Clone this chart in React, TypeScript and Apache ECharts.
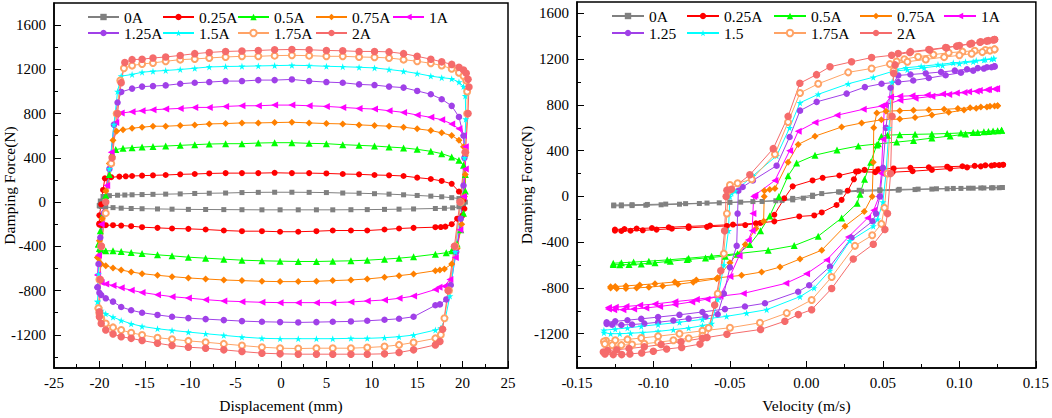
import React, { useEffect, useRef } from 'react';
import * as echarts from 'echarts';

const FONT = 'Liberation Serif';

// ---------- series identity ----------
const NAMES_L = ['0A', '0.25A', '0.5A', '0.75A', '1A', '1.25A', '1.5A', '1.75A', '2A'];
const NAMES_R = ['0A', '0.25A', '0.5A', '0.75A', '1A', '1.25', '1.5', '1.75A', '2A'];
const COLORS = ['#808080', '#FF0000', '#00FF00', '#FF8000', '#FF00FF', '#A040E8', '#00FFFF', '#FFA366', '#F56B6B'];
const STAR = 'path://M50,0L61,35L98,35L68,57L79,91L50,70L21,91L32,57L2,35L39,35Z';
const SYMBOLS = ['rect', 'circle', 'triangle', 'diamond', 'triangle', 'circle', STAR, 'emptyCircle', 'circle'];
const SYMBOL_ROTATE = [0, 0, 0, 0, 90, 0, 0, 0, 0];
const SYMBOL_SIZE = [5, 6, 7, 7, 7, 6.5, 7, 6, 7.5];

// ---------- axis ticks ----------
const Y_TICKS = [-1200, -800, -400, 0, 400, 800, 1200, 1600];
const Y_MINOR = [-1400, -1000, -600, -200, 200, 600, 1000, 1400];

// ---------- left panel: displacement positions of markers ----------
const DISP_UP = [-16.4, -15.3, -14.1, -12.7, -11.1, -9.5, -7.9, -6.1, -4.3, -2.5, -0.7, 1.2, 3.1, 5.0, 6.8, 8.6, 10.3, 11.9, 13.5, 15.0, 16.5, 17.7, 18.8, 19.6, 20.1];
const DISP_LO = [17.0, 14.6, 13.0, 11.4, 9.5, 7.7, 5.7, 3.9, 1.9, -0.1, -2.1, -4.3, -6.3, -8.3, -10.2, -12.0, -13.6, -15.3, -16.5, -17.6, -18.5, -19.3, -19.8, -20.0];

// 0A
const EL_0 = [[-20.0, -30], [-19.9, 10], [-19.6, 51], [-18.9, 58], [-18.0, 62], [-17.2, 64]];
const FU_0 = [66, 68, 70, 72, 74, 78, 80, 82, 86, 88, 89, 89, 88, 86, 82, 80, 76, 72, 66, 60, 54, 48, 40, 32, 22];
const ER_0 = [[20.3, 0], [20.1, -25], [19.6, -42], [18.9, -52], [18.0, -56]];
const FL_0 = [-58, -62, -64, -66, -68, -69, -70, -70, -70, -70, -70, -69, -68, -67, -66, -64, -62, -60, -58, -55, -50, -45, -40, -35];
// 0.25A
const EL_025 = [[-20.0, -195], [-20.0, -120], [-19.8, -20], [-19.6, 110], [-19.4, 215], [-18.7, 225], [-17.8, 230], [-17.1, 233]];
const FU_025 = [236, 239, 242, 245, 251, 254, 259, 262, 262, 262, 265, 262, 262, 259, 254, 251, 245, 242, 236, 221, 209, 191, 165, 95, 20];
const ER_025 = [[20.2, -60], [20.0, -120], [19.4, -150], [18.8, -200], [18.1, -222], [17.6, -226]];
const FL_025 = [-227, -233, -239, -248, -257, -257, -257, -263, -268, -268, -263, -263, -257, -248, -242, -239, -233, -227, -218, -212, -209, -209, -209, -205];
// 0.5A
const EL_05 = [[-20.1, -380], [-19.9, -260], [-19.6, -100], [-19.3, 60], [-18.9, 250], [-18.6, 440], [-18.2, 475], [-17.4, 486]];
const FU_05 = [492, 498, 503, 507, 513, 519, 525, 528, 528, 534, 537, 537, 531, 528, 519, 513, 507, 498, 490, 477, 459, 438, 408, 378, 334];
const ER_05 = [[20.3, 250], [20.3, 100], [20.1, -100], [19.8, -250], [19.4, -380], [18.8, -440], [18.2, -458]];
const FL_05 = [-471, -495, -507, -516, -525, -531, -534, -537, -537, -534, -531, -525, -516, -507, -498, -486, -477, -465, -456, -447, -441, -441, -430, -420];
// 0.75A
const EL_075 = [[-20.2, -500], [-20.0, -350], [-19.7, -150], [-19.3, 100], [-18.9, 350], [-18.5, 560], [-18.1, 640], [-17.4, 655]];
const FU_075 = [668, 677, 686, 686, 692, 698, 707, 710, 716, 716, 719, 722, 716, 710, 707, 698, 692, 686, 677, 662, 647, 626, 602, 560, 500];
const ER_075 = [[20.3, 420], [20.3, 250], [20.2, 50], [19.9, -200], [19.4, -420], [18.8, -560], [18.0, -605], [17.5, -615]];
const FL_075 = [-620, -650, -665, -680, -695, -704, -710, -716, -719, -719, -716, -710, -704, -695, -686, -674, -662, -647, -632, -614, -596, -575, -560, -546];
// 1A
const EL_1 = [[-20.2, -660], [-20.1, -480], [-19.8, -200], [-19.2, 150], [-18.7, 450], [-18.2, 720], [-17.6, 805]];
const FU_1 = [817, 826, 835, 841, 847, 856, 856, 865, 871, 871, 877, 877, 871, 865, 856, 847, 841, 826, 811, 787, 766, 745, 707, 662, 602];
const ER_1 = [[20.3, 500], [20.3, 300], [20.1, 50], [19.7, -250], [19.2, -500], [18.6, -700], [18.0, -760], [17.4, -769]];
const FL_1 = [-790, -850, -870, -885, -894, -903, -909, -909, -909, -909, -906, -900, -894, -882, -868, -855, -838, -817, -796, -775, -754, -740, -728, -715];
// 1.25A
const EL_125 = [[-20.2, -770], [-20.1, -560], [-19.9, -320], [-19.5, -100], [-18.9, 300], [-18.4, 700], [-18.0, 900], [-17.6, 996]];
const FU_125 = [1026, 1044, 1049, 1055, 1070, 1079, 1085, 1094, 1094, 1103, 1103, 1109, 1094, 1085, 1079, 1064, 1058, 1044, 1035, 1005, 975, 930, 870, 770, 600];
const ER_125 = [[20.2, 400], [20.1, 150], [19.8, -150], [19.3, -450], [18.7, -750], [18.2, -880], [17.5, -925]];
const FL_125 = [-933, -1037, -1055, -1064, -1073, -1079, -1082, -1085, -1088, -1085, -1082, -1076, -1067, -1058, -1049, -1037, -1020, -1000, -978, -948, -900, -870, -840, -820];
// 1.5A
const EL_15 = [[-20.2, -900], [-20.1, -650], [-19.9, -400], [-19.4, -100], [-18.9, 300], [-18.4, 700], [-18.0, 1000], [-17.6, 1139]];
const FU_15 = [1154, 1174, 1183, 1190, 1199, 1210, 1222, 1226, 1228, 1231, 1234, 1237, 1234, 1228, 1224, 1219, 1213, 1199, 1183, 1163, 1139, 1125, 1115, 1085, 1045];
const ER_15 = [[20.3, 960], [20.35, 750], [20.2, 400], [19.8, 0], [19.2, -450], [18.6, -850], [18.1, -1050], [17.6, -1140]];
const FL_15 = [-1157, -1202, -1217, -1226, -1232, -1232, -1235, -1235, -1235, -1235, -1232, -1220, -1205, -1190, -1175, -1160, -1145, -1124, -1100, -1070, -1040, -1010, -980, -960];
// 1.75A
const EL_175 = [[-20.1, -960], [-20.0, -700], [-19.8, -400], [-19.3, -100], [-18.7, 350], [-18.1, 800], [-17.7, 1100], [-17.3, 1210]];
const FU_175 = [1234, 1249, 1258, 1273, 1288, 1294, 1303, 1312, 1318, 1318, 1324, 1327, 1324, 1318, 1318, 1312, 1309, 1303, 1288, 1273, 1255, 1235, 1205, 1170, 1140];
const ER_175 = [[20.4, 1100], [20.5, 1000], [20.5, 800], [20.3, 450], [19.8, 0], [19.2, -400], [18.5, -800], [18.0, -1050], [17.6, -1200]];
const FL_175 = [-1232, -1270, -1291, -1306, -1315, -1321, -1321, -1321, -1324, -1321, -1312, -1297, -1282, -1267, -1255, -1240, -1226, -1202, -1181, -1157, -1133, -1097, -1052, -1008];
// 2A
const EL_2 = [[-20.0, -993], [-19.9, -700], [-19.8, -400], [-19.3, 0], [-18.6, 400], [-18.0, 800], [-17.6, 1080], [-17.2, 1262]];
const FU_2 = [1288, 1292, 1303, 1312, 1326, 1342, 1353, 1362, 1366, 1371, 1377, 1380, 1377, 1371, 1368, 1362, 1362, 1358, 1342, 1318, 1292, 1268, 1245, 1218, 1195];
const ER_2 = [[20.4, 1165], [20.6, 1110], [20.7, 1040], [20.6, 800], [20.3, 450], [19.7, 0], [19.1, -400], [18.4, -800], [17.8, -1150], [17.5, -1260]];
const FL_2 = [-1291, -1336, -1360, -1372, -1375, -1375, -1375, -1375, -1375, -1372, -1366, -1351, -1336, -1321, -1312, -1297, -1276, -1252, -1232, -1217, -1193, -1157, -1097, -1037];

// ---------- right panel: velocity / force loops ----------
const VEL_0 = [
  [0.128, 78], [0.122, 76], [0.116, 74], [0.109, 72], [0.101, 70], [0.092, 67], [0.082, 64], [0.071, 60], [0.060, 55], [0.048, 50], [0.036, 45], [0.022, 38], [0.010, 25], [0.004, 0], [-0.002, -15],
  [-0.009, -30], [-0.020, -38], [-0.035, -45], [-0.050, -52], [-0.065, -58], [-0.079, -63], [-0.092, -67], [-0.104, -70], [-0.114, -72], [-0.121, -74], [-0.126, -75],
  [-0.126, -82], [-0.121, -82], [-0.114, -80], [-0.105, -77], [-0.095, -73], [-0.083, -68], [-0.070, -62], [-0.057, -56], [-0.043, -50], [-0.029, -44], [-0.016, -35],
  [-0.009, -17], [0.004, 11], [0.021, 40],
  [0.0345, 54], [0.048, 58], [0.0607, 62], [0.073, 64], [0.085, 67], [0.096, 70], [0.106, 72], [0.114, 74], [0.121, 75], [0.126, 76],
];
const VEL_025 = [
  [0.1286, 277], [0.123, 275], [0.117, 272], [0.110, 268], [0.102, 264], [0.092, 260], [0.080, 255], [0.068, 250], [0.057, 245], [0.047, 238], [0.038, 232],
  [0.034, 220], [0.031, 150], [0.027, 50], [0.023, -30], [0.0197, -75],
  [0.010, -140], [0.0051, -166], [-0.0047, -175], [-0.021, -218], [-0.033, -235], [-0.048, -246], [-0.063, -255], [-0.077, -262], [-0.090, -270], [-0.101, -276], [-0.111, -281], [-0.119, -285], [-0.1252, -289],
  [-0.1252, -300], [-0.121, -302], [-0.115, -300], [-0.107, -296], [-0.098, -290], [-0.088, -282], [-0.077, -275], [-0.065, -266], [-0.052, -258], [-0.040, -250],
  [-0.030, -232], [-0.021, -160], [-0.0145, -17], [-0.009, 88],
  [0.004, 140], [0.0106, 163], [0.0215, 183], [0.0324, 217], [0.045, 212], [0.0563, 212], [0.0694, 221], [0.082, 232], [0.094, 244], [0.105, 254], [0.114, 263], [0.121, 270], [0.126, 274],
];
const VEL_05 = [
  [0.1276, 578], [0.122, 572], [0.116, 566], [0.109, 560], [0.101, 555], [0.092, 550], [0.082, 546], [0.071, 543], [0.061, 540], [0.053, 536], [0.049, 525],
  [0.046, 450], [0.042, 300], [0.038, 150], [0.035, 20], [0.0332, -60],
  [0.023, -189], [0.0077, -347], [-0.008, -430], [-0.025, -470], [-0.045, -500], [-0.062, -522], [-0.077, -540], [-0.091, -555], [-0.103, -566], [-0.113, -574], [-0.121, -580], [-0.1263, -584],
  [-0.1263, -595], [-0.122, -598], [-0.116, -596], [-0.108, -590], [-0.099, -580], [-0.089, -566], [-0.078, -552], [-0.066, -538], [-0.053, -522], [-0.045, -505],
  [-0.037, -420], [-0.030, -300], [-0.024, -170], [-0.018, 0], [-0.012, 180], [-0.0064, 292],
  [0.0056, 361], [0.020, 405], [0.0339, 441], [0.047, 460], [0.059, 475], [0.070, 490], [0.082, 510], [0.094, 528], [0.104, 545], [0.112, 558], [0.119, 568], [0.125, 575],
];
const VEL_075 = [
  [0.125, 793], [0.120, 788], [0.114, 782], [0.107, 775], [0.099, 768], [0.090, 762], [0.080, 757], [0.070, 753], [0.061, 750], [0.052, 745],
  [0.046, 730], [0.044, 600], [0.0437, 300], [0.043, 0], [0.0378, -131],
  [0.0252, -260], [0.010, -470], [-0.0042, -547], [-0.0173, -618], [-0.0293, -661], [-0.0424, -690], [-0.058, -712], [-0.072, -730], [-0.086, -748], [-0.099, -763], [-0.109, -774], [-0.118, -782], [-0.125, -788], [-0.128, -790],
  [-0.128, -800], [-0.124, -805], [-0.118, -805], [-0.111, -800], [-0.103, -793], [-0.094, -782], [-0.084, -768], [-0.074, -750], [-0.0587, -720],
  [-0.050, -580], [-0.040, -420], [-0.033, -280], [-0.028, -218], [-0.0276, 0], [-0.0275, 50],
  [-0.024, 60], [-0.0206, 70], [-0.012, 300], [-0.0054, 455], [0.0056, 527], [0.023, 607], [0.0361, 642], [0.049, 670], [0.061, 676], [0.071, 690], [0.082, 712], [0.093, 735], [0.103, 755], [0.111, 770], [0.118, 782], [0.123, 790],
];
const VEL_1 = [
  [0.1243, 942], [0.119, 935], [0.113, 926], [0.106, 916], [0.098, 905], [0.089, 895], [0.079, 886], [0.069, 880], [0.061, 876], [0.055, 870],
  [0.051, 800], [0.050, 500], [0.049, 200], [0.0475, 0], [0.044, -120], [0.040, -189],
  [0.0274, -355], [0.0132, -556], [0.0001, -676], [-0.0135, -760], [-0.0413, -848], [-0.058, -875], [-0.072, -900], [-0.086, -920], [-0.099, -940], [-0.109, -952], [-0.118, -962], [-0.125, -968], [-0.1295, -972],
  [-0.1295, -985], [-0.126, -990], [-0.120, -990], [-0.113, -985], [-0.105, -975], [-0.096, -962], [-0.086, -945], [-0.075, -922], [-0.065, -898], [-0.0565, -870],
  [-0.050, -700], [-0.044, -520], [-0.038, -380], [-0.0355, -300], [-0.035, -150], [-0.0345, 0],
  [-0.0337, 11], [-0.0206, 140], [-0.011, 400], [-0.0054, 570], [0.0056, 647], [0.020, 710], [0.0371, 762], [0.0491, 790], [0.0611, 842], [0.071, 858], [0.082, 875], [0.093, 892], [0.103, 908], [0.111, 920], [0.118, 932], [0.123, 940],
];
const VEL_125 = [
  [0.123, 1137], [0.118, 1130], [0.112, 1122], [0.105, 1112], [0.097, 1100], [0.088, 1088], [0.078, 1076], [0.068, 1066], [0.060, 1058],
  [0.055, 950], [0.052, 600], [0.050, 250], [0.048, 0], [0.0455, -150], [0.0432, -217],
  [0.0295, -361], [0.0154, -613], [0.0018, -776], [-0.0054, -833], [-0.0271, -934], [-0.0402, -962], [-0.0533, -985], [-0.068, -1010], [-0.083, -1035], [-0.097, -1055], [-0.108, -1070], [-0.117, -1082], [-0.125, -1092], [-0.1306, -1100],
  [-0.1306, -1114], [-0.127, -1122], [-0.121, -1124], [-0.114, -1120], [-0.106, -1112], [-0.097, -1100], [-0.087, -1085], [-0.077, -1068], [-0.066, -1050], [-0.058, -1030],
  [-0.054, -850], [-0.050, -620], [-0.0456, -432], [-0.045, -150], [-0.0445, 50], [-0.0417, 83],
  [-0.035, 140], [-0.0195, 269], [-0.011, 520], [-0.0042, 750], [0.0067, 827], [0.0263, 899], [0.0382, 956], [0.0491, 985], [0.060, 1000], [0.0698, 1014], [0.080, 1035], [0.091, 1060], [0.101, 1082], [0.109, 1100], [0.116, 1118], [0.121, 1130],
];
const VEL_15 = [
  [0.1225, 1205], [0.117, 1197], [0.111, 1188], [0.104, 1178], [0.096, 1168], [0.086, 1153], [0.075, 1138], [0.065, 1125], [0.059, 1110],
  [0.056, 1000], [0.054, 600], [0.052, 200], [0.050, -50], [0.0465, -200], [0.0437, -260],
  [0.0284, -389], [0.0154, -647], [0.005, -800], [-0.0042, -876], [-0.026, -990], [-0.0391, -1020], [-0.0522, -1048], [-0.068, -1075], [-0.083, -1100], [-0.097, -1120], [-0.108, -1135], [-0.117, -1150], [-0.125, -1160], [-0.1324, -1170],
  [-0.1324, -1191], [-0.128, -1200], [-0.122, -1200], [-0.115, -1196], [-0.107, -1190], [-0.097, -1180], [-0.087, -1165], [-0.077, -1150], [-0.068, -1130], [-0.062, -1112],
  [-0.058, -900], [-0.054, -600], [-0.051, -300], [-0.050, 0], [-0.049, 30],
  [-0.0467, 46], [-0.035, 180], [-0.0195, 355], [-0.011, 600], [-0.0042, 819], [0.0077, 893], [0.0273, 985], [0.0437, 1042], [0.0567, 1095], [0.066, 1108], [0.077, 1125], [0.089, 1145], [0.100, 1162], [0.109, 1178], [0.116, 1192], [0.121, 1200],
];
const VEL_175 = [
  [0.123, 1286], [0.117, 1280], [0.110, 1274], [0.102, 1266], [0.093, 1256], [0.083, 1240], [0.073, 1222], [0.064, 1200], [0.059, 1180],
  [0.057, 1100], [0.055, 700], [0.053, 200], [0.051, -100], [0.049, -240],
  [0.0430, -340], [0.0317, -432], [0.0165, -704], [0.0034, -905], [-0.0129, -1020], [-0.0304, -1105], [-0.050, -1148], [-0.068, -1175], [-0.083, -1200], [-0.097, -1222], [-0.108, -1238], [-0.117, -1250], [-0.125, -1258], [-0.131, -1262], [-0.1324, -1268],
  [-0.1318, -1290], [-0.127, -1300], [-0.121, -1300], [-0.114, -1295], [-0.106, -1288], [-0.097, -1275], [-0.087, -1258], [-0.077, -1240], [-0.068, -1218],
  [-0.064, -1150], [-0.058, -850], [-0.054, -500], [-0.052, -150], [-0.051, 50], [-0.050, 100],
  [-0.045, 115], [-0.0358, 150], [-0.0206, 369], [-0.012, 650], [-0.0042, 905], [0.0077, 985], [0.0273, 1085], [0.0426, 1119], [0.0546, 1157], [0.066, 1178], [0.078, 1198], [0.090, 1218], [0.100, 1234], [0.108, 1248], [0.115, 1262], [0.120, 1275],
];
const VEL_2 = [
  [0.123, 1372], [0.119, 1362], [0.114, 1352], [0.108, 1338], [0.100, 1320], [0.091, 1302], [0.080, 1284], [0.068, 1266], [0.060, 1250],
  [0.058, 1150], [0.057, 1077], [0.056, 700], [0.055, 200], [0.053, -150], [0.0513, -289],
  [0.0437, -418], [0.0306, -547], [0.0165, -805], [0.0034, -990], [-0.0053, -1033], [-0.0141, -1091], [-0.030, -1163], [-0.052, -1205], [-0.068, -1240], [-0.082, -1270], [-0.095, -1295], [-0.106, -1315], [-0.116, -1330], [-0.124, -1340], [-0.130, -1348], [-0.1328, -1360],
  [-0.1317, -1377], [-0.1263, -1383], [-0.1208, -1383], [-0.1154, -1377], [-0.1077, -1368], [-0.1001, -1354], [-0.0914, -1334], [-0.0816, -1320], [-0.0696, -1291],
  [-0.065, -1234], [-0.060, -950], [-0.056, -650], [-0.0535, -300], [-0.0525, 0], [-0.052, 55],
  [-0.049, 63], [-0.037, 189], [-0.0217, 418], [-0.012, 700], [-0.0043, 990], [0.0066, 1065], [0.0154, 1134], [0.0295, 1177], [0.0426, 1214], [0.0557, 1234], [0.0676, 1258], [0.0807, 1280], [0.0916, 1300], [0.0982, 1314], [0.1069, 1332], [0.1134, 1348], [0.1178, 1358], [0.1221, 1368],
];

function loopLeft(el: number[][], fu: number[], er: number[][], fl: number[]) {
  const pts: number[][] = [...el];
  DISP_UP.forEach((x, i) => pts.push([x, fu[i]]));
  er.forEach((p) => pts.push(p));
  DISP_LO.forEach((x, i) => pts.push([x, fl[i]]));
  pts.push(el[0]);
  return pts;
}
const closeLoop = (a: number[][]) => [...a, a[0]];

const LEFT_LOOPS = [
  loopLeft(EL_0, FU_0, ER_0, FL_0),
  loopLeft(EL_025, FU_025, ER_025, FL_025),
  loopLeft(EL_05, FU_05, ER_05, FL_05),
  loopLeft(EL_075, FU_075, ER_075, FL_075),
  loopLeft(EL_1, FU_1, ER_1, FL_1),
  loopLeft(EL_125, FU_125, ER_125, FL_125),
  loopLeft(EL_15, FU_15, ER_15, FL_15),
  loopLeft(EL_175, FU_175, ER_175, FL_175),
  loopLeft(EL_2, FU_2, ER_2, FL_2),
];
const RIGHT_LOOPS = [VEL_0, VEL_025, VEL_05, VEL_075, VEL_1, VEL_125, VEL_15, VEL_175, VEL_2].map(closeLoop);

// legend placement (layout)
const LEG_L = [[87, 9], [162, 9], [237, 9], [315, 9], [392, 9], [87, 25], [162, 25], [237, 25], [315, 25]];
const LEG_R = [[611, 8], [686, 8], [773, 8], [859, 8], [943, 8], [611, 25], [686, 25], [773, 25], [859, 25]];

function txt(size: number = 15.5) {
  return { fontFamily: FONT, fontSize: size, color: '#000' };
}

function makeSeries(i: number, name: string, data: number[][], axis: number) {
  return {
    type: 'line',
    name,
    xAxisIndex: axis,
    yAxisIndex: axis === 0 ? 0 : 2,
    data,
    symbol: SYMBOLS[i],
    symbolSize: SYMBOL_SIZE[i],
    symbolRotate: SYMBOL_ROTATE[i],
    showSymbol: true,
    lineStyle: { color: COLORS[i], width: 1 },
    itemStyle: { color: COLORS[i], borderColor: COLORS[i], borderWidth: SYMBOLS[i] === 'emptyCircle' ? 1.2 : 0 },
    emphasis: { disabled: true },
    animation: false,
  };
}

function yAxes(grid: number, max: number, nameGap: number) {
  return [
    {
      type: 'value', gridIndex: grid, min: -1500, max, position: 'left',
      name: 'Damping Force(N)', nameLocation: 'middle', nameGap, nameMoveOverlap: false,
      nameTextStyle: txt(15.5),
      axisLine: { show: true, onZero: false, lineStyle: { color: '#000', width: 1.5 } },
      axisTick: { show: true, inside: true, length: 7, customValues: Y_TICKS, lineStyle: { color: '#000', width: 1 } },
      axisLabel: {
        show: true, customValues: Y_TICKS, margin: 8,
        fontFamily: FONT, fontSize: 15, color: '#000',
        formatter: (v: number) => String(v),
      },
      splitLine: { show: false },
    },
    {
      type: 'value', gridIndex: grid, min: -1500, max, position: 'left',
      axisLine: { show: false, onZero: false },
      axisTick: { show: true, inside: true, length: 4, customValues: Y_MINOR, lineStyle: { color: '#000', width: 1 } },
      axisLabel: { show: false },
      splitLine: { show: false },
    },
  ];
}

function xAxis(grid: number, min: number, max: number, interval: number, name: string, fmt: (v: number) => string) {
  return {
    type: 'value', gridIndex: grid, min, max, interval,
    name, nameLocation: 'middle', nameGap: 29, nameMoveOverlap: false, nameTextStyle: txt(15.5),
    axisLine: { show: true, onZero: false, lineStyle: { color: '#000', width: 1.5 } },
    axisTick: { show: true, inside: true, length: 7, lineStyle: { color: '#000', width: 1 } },
    minorTick: { show: true, splitNumber: 2, length: 4, lineStyle: { color: '#000', width: 1 } },
    axisLabel: { margin: 7, fontFamily: FONT, fontSize: 15, color: '#000', formatter: fmt },
    splitLine: { show: false },
  };
}

function buildOption() {
  const legends: any[] = [];
  NAMES_L.forEach((n, i) => legends.push({
    data: [n], left: LEG_L[i][0], top: LEG_L[i][1], itemWidth: 31, itemHeight: 8, padding: 0,
    selectedMode: false, textStyle: txt(15.5),
  }));
  NAMES_R.forEach((n, i) => legends.push({
    data: [n], left: LEG_R[i][0], top: LEG_R[i][1], itemWidth: 32, itemHeight: 8, padding: 0,
    selectedMode: false, textStyle: txt(15.5),
  }));
  const series: any[] = [];
  NAMES_L.forEach((n, i) => series.push(makeSeries(i, n, LEFT_LOOPS[i], 0)));
  NAMES_R.forEach((n, i) => series.push(makeSeries(i, n, RIGHT_LOOPS[i], 1)));
  return {
    animation: false,
    backgroundColor: '#fff',
    textStyle: { fontFamily: FONT, fontSize: 15, color: '#000' },
    legend: legends,
    grid: [
      { left: 51, top: 3, width: 457, height: 369, show: true, borderColor: '#000', borderWidth: 1.5, containLabel: false },
      { left: 577, top: 2, width: 459, height: 371, show: true, borderColor: '#000', borderWidth: 1.5, containLabel: false },
    ],
    xAxis: [
      xAxis(0, -25, 25, 5, 'Displacement (mm)', (v) => String(v)),
      xAxis(1, -0.15, 0.15, 0.05, 'Velocity (m/s)', (v) => (Math.abs(v) < 1e-9 ? 0 : v).toFixed(2)),
    ],
    yAxis: [...yAxes(0, 1800, 37), ...yAxes(1, 1700, 43)],
    series,
  };
}

export default function App() {
  const ref = useRef<HTMLDivElement>(null);
  useEffect(() => {
    document.body.style.margin = '0';
    const el = ref.current as HTMLDivElement;
    const chart = echarts.init(el, null, { renderer: 'svg' });
    chart.setOption(buildOption() as any);
    return () => chart.dispose();
  }, []);
  return <div ref={ref} style={{ width: 1052, height: 418 }} />;
}
